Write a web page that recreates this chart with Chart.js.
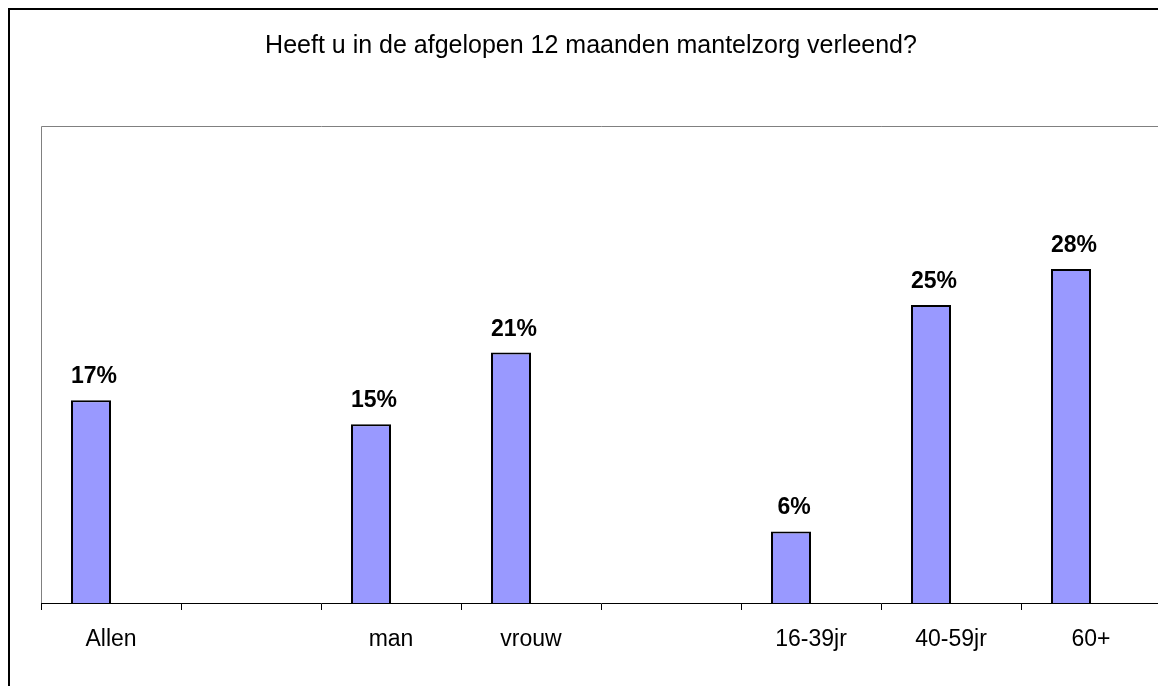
<!DOCTYPE html>
<html>
<head>
<meta charset="utf-8">
<script src="https://cdn.jsdelivr.net/npm/chart.js@4/dist/chart.umd.min.js"></script>
<style>
    html, body { margin: 0; padding: 0; background: #fff; overflow: hidden; }
    #frame {
        position: absolute; left: 8px; top: 8px;
        width: 1180px; height: 700px;
        border: 2px solid #000;
    }
    #wrap { position: absolute; left: 0; top: 0; width: 1200px; height: 686px; }
</style>
</head>
<body>
<div id="frame"></div>
<div id="wrap"><canvas id="myChart"></canvas></div>
<script>
const TITLE = 'Heeft u in de afgelopen 12 maanden mantelzorg verleend?';
// empty strings are the blank gaps between the groups
const categories = ['Allen', '', 'man', 'vrouw', '', '16-39jr', '40-59jr', '60+'];
const percentages = [17, null, 15, 21, null, 6, 25, 28];
// second (empty) series, like in the original sheet, pushes the bars left
const emptySeries = [null, null, null, null, null, null, null, null];

const FONT = '"Liberation Sans", Arial, sans-serif';

// gray plot area border + title + value labels
const decorations = {
    id: 'decorations',
    beforeDraw(chart) {
        const { ctx, chartArea: a } = chart;
        ctx.save();
        ctx.strokeStyle = '#808080';
        ctx.lineWidth = 1;
        ctx.beginPath();
        ctx.moveTo(a.left + 0.5, a.bottom);
        ctx.lineTo(a.left + 0.5, a.top + 0.5);
        ctx.lineTo(a.right, a.top + 0.5);
        ctx.stroke();

        ctx.fillStyle = '#000';
        ctx.font = '25px ' + FONT;
        ctx.textAlign = 'center';
        ctx.textBaseline = 'alphabetic';
        ctx.fillText(TITLE, 591, 53);
        ctx.restore();
    },
    afterDatasetsDraw(chart) {
        const { ctx } = chart;
        const meta = chart.getDatasetMeta(0);
        ctx.save();
        ctx.fillStyle = '#000';
        ctx.font = 'bold 23px ' + FONT;
        ctx.textAlign = 'center';
        ctx.textBaseline = 'alphabetic';
        meta.data.forEach((bar, i) => {
            const v = percentages[i];
            if (v == null) return;
            ctx.fillText(v + '%', bar.x + 3, bar.y - 17);
        });
        ctx.restore();
    }
};

new Chart(document.getElementById('myChart'), {
    type: 'bar',
    data: {
        labels: categories,
        datasets: [
            {
                label: 'Ja',
                data: percentages,
                backgroundColor: '#9999FF',
                borderColor: '#000',
                borderWidth: 2,
                categoryPercentage: 80 / 140,
                barPercentage: 1,
            },
            {
                label: '',
                data: emptySeries,
                backgroundColor: '#9999FF',
                categoryPercentage: 80 / 140,
                barPercentage: 1,
            }
        ]
    },
    options: {
        responsive: true,
        maintainAspectRatio: false,
        animation: false,
        layout: { padding: { left: 41, right: 39, top: 126, bottom: 0 } },
        plugins: {
            legend: { display: false },
            title: { display: false },
            tooltip: { enabled: false }
        },
        scales: {
            x: {
                offset: true,
                grid: {
                    offset: true,
                    drawOnChartArea: false,
                    drawTicks: true,
                    tickLength: 7,
                    color: '#000',
                    lineWidth: 1
                },
                border: { display: true, color: '#000', width: 1 },
                ticks: {
                    color: '#000',
                    font: { family: FONT, size: 23 },
                    padding: 16,
                    maxRotation: 0,
                    autoSkip: false
                },
                afterFit(scale) { scale.height = 83; }
            },
            y: {
                display: false,
                min: 0,
                max: 40,
                beginAtZero: true
            }
        }
    },
    plugins: [decorations]
});
</script>
</body>
</html>
